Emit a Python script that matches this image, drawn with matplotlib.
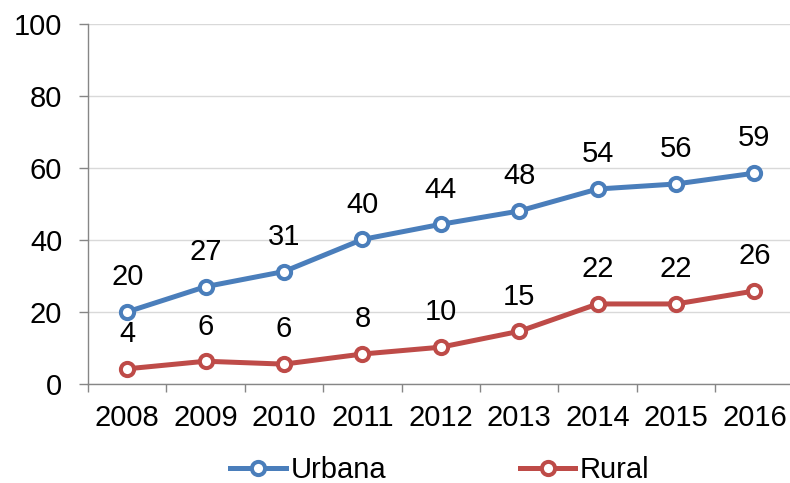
# %% importing modules
import numpy as np
import matplotlib.pyplot as plt
from matplotlib.ticker import FixedLocator, NullFormatter

# %% data
years = ['2008', '2009', '2010', '2011', '2012', '2013', '2014', '2015', '2016']
urbana = [20.1, 27.1, 31.3, 40.2, 44.4, 48.1, 54.2, 55.6, 58.6]
rural = [4.3, 6.4, 5.6, 8.4, 10.3, 14.7, 22.3, 22.3, 25.9]

# %% style
plt.rcParams['font.family'] = ['Liberation Sans', 'DejaVu Sans']
blue = '#4A7EBB'
red = '#BE4B48'
axis_grey = '#868686'
fs = 21

fig = plt.figure(figsize=(7.9, 4.83), dpi=100)
ax = fig.add_axes([88 / 790, 1 - 384.3 / 483, 702 / 790, (384.3 - 24) / 483])

x = np.arange(len(years))
for vals, col, name in [(urbana, blue, 'Urbana'), (rural, red, 'Rural')]:
    ax.plot(x, vals, color=col, lw=3.6, marker='o', ms=9.5, mfc='white',
            mec=col, mew=2.9, label=name, zorder=3)
    for xi, v in zip(x, vals):
        ax.annotate(f'{v:.0f}', (xi, v), xytext=(0, 25), textcoords='offset points',
                    ha='center', va='center', fontsize=fs)

# %% axes setting
ax.set_ylim(0, 100)
ax.set_xlim(-0.5, -0.5 + 702 / 78.4)
ax.set_yticks(range(0, 101, 20))
ax.set_xticks(x)
ax.set_xticklabels(years)
ax.xaxis.set_minor_locator(FixedLocator(np.arange(-0.5, 9, 1)))
ax.xaxis.set_minor_formatter(NullFormatter())
ax.tick_params(axis='x', which='major', length=0, labelsize=fs, pad=14)
ax.tick_params(axis='x', which='minor', length=6, width=1, color=axis_grey, direction='out')
ax.tick_params(axis='y', length=6.5, width=1, color=axis_grey, labelsize=fs, pad=12)

ax.grid(axis='y', color='#D9D9D9', lw=1)
ax.set_axisbelow(True)
for s in ['top', 'right']:
    ax.spines[s].set_visible(False)
for s in ['left', 'bottom']:
    ax.spines[s].set_color(axis_grey)
    ax.spines[s].set_linewidth(1)
ax.spines['bottom'].set_zorder(4)

# add legend
fig.legend(loc='center', bbox_to_anchor=(440 / 790, 1 - 470 / 483), ncol=2,
           frameon=False, fontsize=fs, handlelength=1.9, handletextpad=0.15,
           columnspacing=4.6)

plt.savefig('out.png', dpi=100, facecolor='w')
